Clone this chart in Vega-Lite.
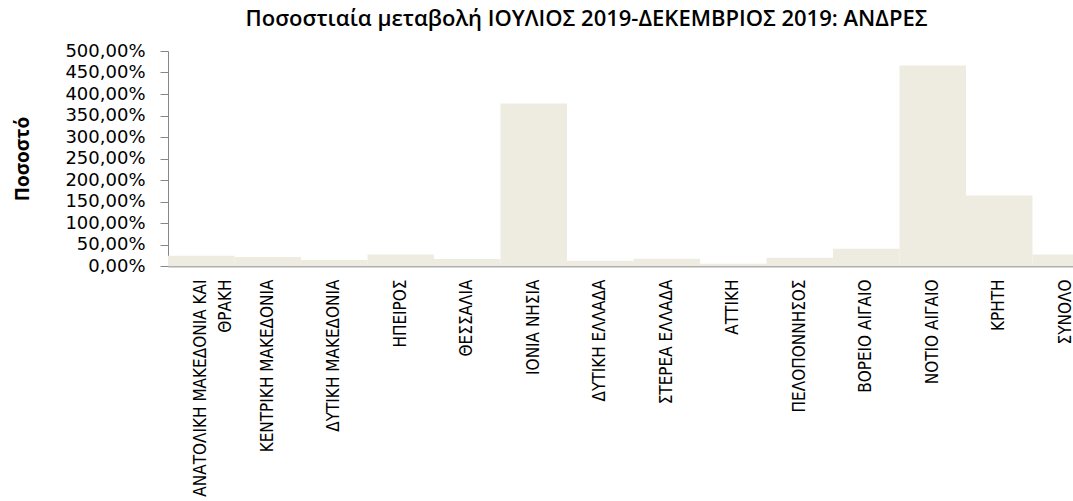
{
  "$schema": "https://vega.github.io/schema/vega-lite/v6.json",
  "autosize": "none",
  "width": 905,
  "height": 215,
  "padding": {"left": 168, "top": 51, "right": 0, "bottom": 235},
  "background": "white",
  "title": {
    "text": "Ποσοστιαία μεταβολή ΙΟΥΛΙΟΣ 2019-ΔΕΚΕΜΒΡΙΟΣ 2019: ΑΝΔΡΕΣ",
    "font": "Open Sans",
    "fontSize": 22,
    "fontWeight": 600,
    "color": "#000000",
    "anchor": "middle",
    "dx": -34,
    "offset": 11
  },
  "data": {
    "values": [
      {"region": "ΑΝΑΤΟΛΙΚΗ ΜΑΚΕΔΟΝΙΑ ΚΑΙ ΘΡΑΚΗ", "pct": 24},
      {"region": "ΚΕΝΤΡΙΚΗ ΜΑΚΕΔΟΝΙΑ", "pct": 21},
      {"region": "ΔΥΤΙΚΗ ΜΑΚΕΔΟΝΙΑ", "pct": 14},
      {"region": "ΗΠΕΙΡΟΣ", "pct": 27},
      {"region": "ΘΕΣΣΑΛΙΑ", "pct": 16},
      {"region": "ΙΟΝΙΑ ΝΗΣΙΑ", "pct": 378},
      {"region": "ΔΥΤΙΚΗ ΕΛΛΑΔΑ", "pct": 12},
      {"region": "ΣΤΕΡΕΑ ΕΛΛΑΔΑ", "pct": 17},
      {"region": "ΑΤΤΙΚΗ", "pct": 5.5},
      {"region": "ΠΕΛΟΠΟΝΝΗΣΟΣ", "pct": 19},
      {"region": "ΒΟΡΕΙΟ ΑΙΓΑΙΟ", "pct": 40},
      {"region": "ΝΟΤΙΟ ΑΙΓΑΙΟ", "pct": 466},
      {"region": "ΚΡΗΤΗ", "pct": 164},
      {"region": "ΣΥΝΟΛΟ", "pct": 27}
    ]
  },
  "mark": {"type": "bar", "color": "#EEECE1", "clip": true},
  "encoding": {
    "x": {
      "field": "region",
      "type": "nominal",
      "sort": null,
      "scale": {"paddingInner": 0, "paddingOuter": 0, "range": [0, 931]},
      "axis": {
        "title": null,
        "labelAngle": -90,
        "labelAlign": "right",
        "labelBaseline": "middle",
        "labelFont": "DejaVu Sans Condensed, Liberation Sans",
        "labelFontSize": 17,
        "labelColor": "#000000",
        "labelPadding": 13,
        "labelLimit": 300,
        "labelLineHeight": 25,
        "labelExpr": "datum.value == 'ΑΝΑΤΟΛΙΚΗ ΜΑΚΕΔΟΝΙΑ ΚΑΙ ΘΡΑΚΗ' ? ['ΑΝΑΤΟΛΙΚΗ ΜΑΚΕΔΟΝΙΑ ΚΑΙ', 'ΘΡΑΚΗ'] : datum.value",
        "ticks": false,
        "domainColor": "#B0B0B0",
        "domainWidth": 2
      }
    },
    "y": {
      "field": "pct",
      "type": "quantitative",
      "scale": {"domain": [0, 500], "nice": false},
      "axis": {
        "title": "Ποσοστό",
        "titleFont": "Open Sans",
        "titleFontSize": 19,
        "titleFontWeight": "bold",
        "titleColor": "#000000",
        "titlePadding": 32,
        "values": [0, 50, 100, 150, 200, 250, 300, 350, 400, 450, 500],
        "labelExpr": "replace(format(datum.value, '.2f'), '.', ',') + '%'",
        "labelFont": "DejaVu Sans",
        "labelFontSize": 18,
        "labelColor": "#000000",
        "labelPadding": 15,
        "grid": false,
        "tickSize": 8,
        "tickColor": "#868686",
        "domainColor": "#868686"
      }
    }
  },
  "config": {"view": {"stroke": null}}
}
